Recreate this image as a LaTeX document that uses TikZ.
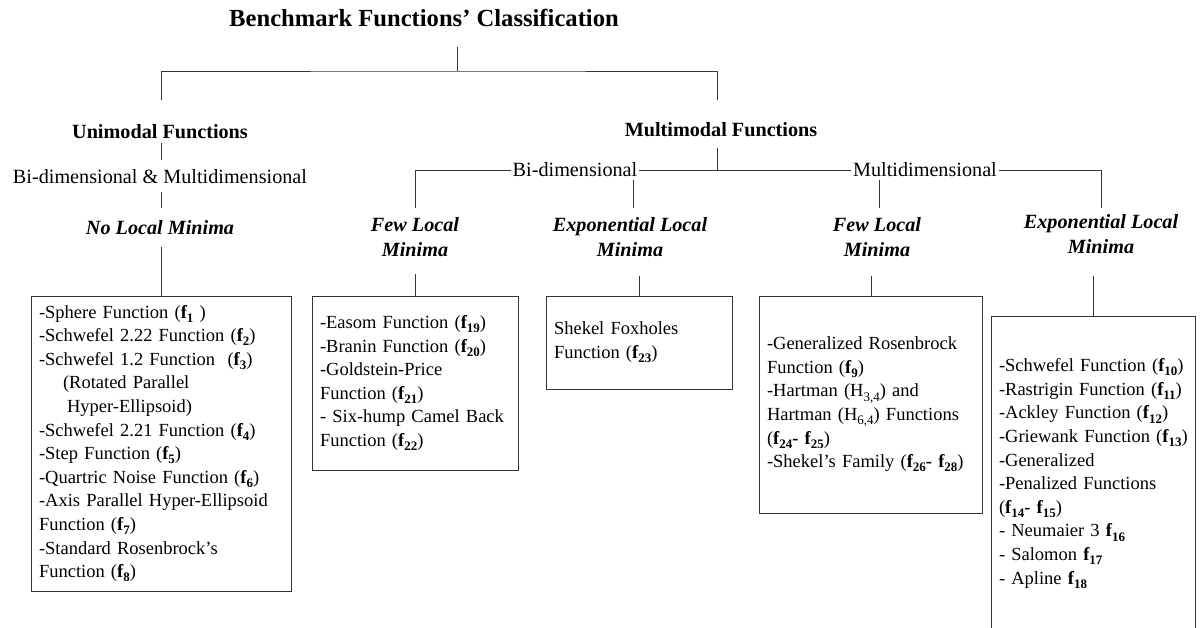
\documentclass[tikz,border=0pt]{standalone}
\usepackage{fontspec}
\setmainfont{Liberation Serif}
% lowered index in the style of a word processor subscript
\newcommand\dn[1]{\raisebox{-4.2pt}{\fontsize{13}{13}\selectfont #1}}
\newcommand\fsub[1]{\textbf{f\dn{#1}}}
\begin{document}
\begin{tikzpicture}[x=1pt,y=-1pt,
  link/.style={draw=black!80, line width=1pt},
  boxnode/.style={draw=black!80, line width=1pt, inner xsep=8pt, inner ysep=0pt,
    align=left, anchor=center, font=\fontsize{18.5}{23.6}\selectfont},
  head/.style={font=\fontsize{20.2}{24}\selectfont\bfseries, inner sep=1pt},
  dimlab/.style={font=\fontsize{20.2}{24}\selectfont, inner sep=1.5pt},
  minlab/.style={font=\fontsize{20.2}{25}\selectfont\bfseries\itshape, align=center, inner sep=1pt},
]
\useasboundingbox (0,0) rectangle (1202,627);

% ---- headings ----
\node[font=\fontsize{24.6}{30}\selectfont\bfseries] (title) at (424,18) {Benchmark Functions’ Classification};
\node[head] (uni) at (160,132) {Unimodal Functions};
\node[head] (multi) at (721,130) {Multimodal Functions};
\node[dimlab] (bothdim) at (160,177) {Bi-dimensional \& Multidimensional};
\node[dimlab] (bi) at (575,170) {Bi-dimensional};
\node[dimlab] (md) at (925,170) {Multidimensional};

\node[font=\fontsize{20.2}{24}\selectfont\bfseries\itshape] (nolm) at (160,228) {No Local Minima};
\node[minlab] (few1) at (415,237.5) {Few Local\\Minima};
\node[minlab] (exp1) at (630,237.5) {Exponential Local\\Minima};
\node[minlab] (few2) at (877,237.5) {Few Local\\Minima};
\node[minlab] (exp2) at (1101,234.5) {Exponential Local\\Minima};

% ---- function lists ----
\node[boxnode, text width=244pt, minimum width=260pt, minimum height=295pt] (box1) at (161,443.5) {%
-Sphere Function (\fsub{1} )\\
-Schwefel 2.22 Function (\fsub{2})\\
-Schwefel 1.2 Function\ \ (\fsub{3})\\
\hspace*{24pt}(Rotated Parallel\\
\hspace*{28pt}Hyper-Ellipsoid)\\
-Schwefel 2.21 Function (\fsub{4})\\
-Step Function (\fsub{5})\\
-Quartric Noise Function (\fsub{6})\\
-Axis Parallel Hyper-Ellipsoid\\
Function (\fsub{7})\\
-Standard Rosenbrock’s\\
Function (\fsub{8})};

\node[boxnode, text width=190pt, minimum width=206pt, minimum height=174pt] (box2) at (415,383) {%
-Easom Function (\fsub{19})\\
-Branin Function (\fsub{20})\\
-Goldstein-Price\\
Function (\fsub{21})\\
- Six-hump Camel Back\\
Function (\fsub{22})};

\node[boxnode, text width=170pt, minimum width=186pt, minimum height=93pt] (box3) at (639,342.5) {%
Shekel Foxholes\\
Function (\fsub{23})};

\node[boxnode, text width=207pt, minimum width=223pt, minimum height=217pt] (box4) at (870.5,404.5) {%
-Generalized Rosenbrock\\
Function (\fsub{9})\\
-Hartman (H\dn{3,4}) and\\
\mbox{Hartman (H\dn{6,4}) Functions}\\
(\textbf{f\dn{24}- f\dn{25}})\\
\mbox{-Shekel’s Family (\textbf{f\dn{26}- f\dn{28}})}};

\node[boxnode, text width=188pt, minimum width=204pt, minimum height=315pt] (box5) at (1093,473.5) {%
\mbox{-Schwefel Function (\fsub{10})}\\
\mbox{-Rastrigin Function (\fsub{11})}\\
\mbox{-Ackley Function (\fsub{12})}\\
\mbox{-Griewank Function (\fsub{13})}\\
-Generalized\\
-Penalized Functions\\
(\textbf{f\dn{14}- f\dn{15}})\\
- Neumaier 3 \fsub{16}\\
- Salomon \fsub{17}\\
- Apline \fsub{18}};

% ---- junction points ----
\coordinate (ttop) at (457,47);
\coordinate (tbar) at (457,71);
\coordinate (unitop) at (161,100);
\coordinate (multitop) at (717,100);
\coordinate (unia) at (161,143);
\coordinate (unib) at (161,160);
\coordinate (bda) at (161,192);
\coordinate (bdb) at (161,208);
\coordinate (nolmb) at (161,247);
\coordinate (mula) at (717,148);
\coordinate (mulb) at (717,170);
\coordinate (few1top) at (415,208);
\coordinate (bidrop) at (633,180);
\coordinate (exp1top) at (633,208);
\coordinate (mddrop) at (879,180);
\coordinate (few2top) at (879,208);
\coordinate (exp2top) at (1101,208);
\coordinate (few1b) at (415,274);
\coordinate (exp1b) at (639,276);
\coordinate (few2b) at (871,276);
\coordinate (exp2b) at (1093,276);

% ---- connectors ----
\draw[link] (ttop) -- (tbar);
\draw[link] (unitop) |- (tbar) -| (multitop);
\draw[link] (unia) -- (unib);
\draw[link] (bda) -- (bdb);
\draw[link] (nolmb) -- (box1.north);
\draw[link] (mula) -- (mulb);
\draw[link] (few1top) |- (bi.west);
\draw[link] (bi.east) -- (md.west);
\draw[link] (md.east) -| (exp2top);
\draw[link] (bidrop) -- (exp1top);
\draw[link] (mddrop) -- (few2top);
\draw[link] (few1b) -- (box2.north -| few1b);
\draw[link] (exp1b) -- (box3.north -| exp1b);
\draw[link] (few2b) -- (box4.north -| few2b);
\draw[link] (exp2b) -- (box5.north -| exp2b);
\end{tikzpicture}
\end{document}
